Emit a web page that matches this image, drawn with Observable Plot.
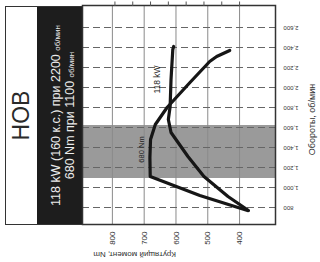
<!DOCTYPE html>
<html>
<head>
<meta charset="utf-8">
<script src="https://cdn.jsdelivr.net/npm/d3@7"></script>
<script src="https://cdn.jsdelivr.net/npm/@observablehq/plot@0.6"></script>
<style>
  html, body { margin: 0; padding: 0; background: #fff; width: 320px; height: 262px; overflow: hidden; }
  #rot { position: absolute; left: 29px; top: -29px; width: 262px; height: 320px;
         transform: rotate(-90deg); font-family: "Liberation Sans", Arial, sans-serif; }
  #head { margin: 5px 0 0 37px; width: 219px; box-sizing: border-box;
          border: 1.5px solid #333; border-bottom: none; }
  #title { height: 30.5px; display: flex; align-items: center; justify-content: center;
           font-size: 23px; color: #2a2a2a; }
  #band { height: 45px; background: #1d1d1d; color: #ececec; font-size: 12.5px;
          line-height: 13px; text-align: center; padding-top: 13px; box-sizing: border-box; }
  #band small { font-size: 8px; }
</style>
</head>
<body>
<div id="rot">
  <div id="head">
    <div id="title">НОВ</div>
    <div id="band">
      <div>118 kW (160 к.с.) при 2200 <small>об/мин</small></div>
      <div>680 Nm при 1100 <small>об/мин</small></div>
    </div>
  </div>
  <div id="chart"></div>
</div>
<script>
// tick values
const rpmTicks = [800, 1000, 1200, 1400, 1600, 1800, 2000, 2200, 2400, 2600];
const torqueTicks = [400, 500, 600, 700, 800];
const powerTicks = [40, 60, 80, 100, 120, 140, 160, 180];

// torque curve (Nm)
const torqueRpm = [770, 920, 1110, 1300, 1480, 1630, 1800, 2050, 2260, 2310, 2370];
const torqueNm  = [375, 525, 681, 682, 680, 665, 628, 556, 494, 472, 431];

// power curve (kW)
const powerRpm = [770, 910, 1110, 1310, 1550, 1680, 1810, 2080, 2380, 2410];
const powerKw  = [30, 53, 80, 98, 117, 120, 118, 117, 115, 114];

// economy band (rpm)
const bandRpm = [1100, 1630];

// annotations
const notes = [
  {text: "118 kW", rpm: 2080, nm: 658, size: 8.5},
  {text: "680 Nm", rpm: 1380, nm: 709, size: 7.5}
];

const rpmDomain = [630, 2820];
const nmDomain = [287, 894];
// power axis placed on the torque scale: Nm-equivalent = KW0 + KWK * kW
const KW0 = 288, KWK = 2.8;
const kwToScale = kw => KW0 + KWK * kw;

const torque = torqueRpm.map((r, i) => ({rpm: r, v: torqueNm[i]}));
const power = powerRpm.map((r, i) => ({rpm: r, v: kwToScale(powerKw[i])}));

const chart = Plot.plot({
  width: 262,
  height: 238,
  marginLeft: 37,
  marginRight: 6,
  marginTop: 0,
  marginBottom: 45,
  style: {overflow: "visible", background: "transparent", fontFamily: "Liberation Sans, Arial, sans-serif", color: "#333"},
  x: {domain: rpmDomain},
  y: {domain: nmDomain},
  marks: [
    Plot.rect([bandRpm], {x1: d => d[0], x2: d => d[1], y1: () => nmDomain[0], y2: () => nmDomain[1], fill: "#9a9a9a"}),
    Plot.ruleY(torqueTicks, {stroke: "#8a8a8a", strokeWidth: 1}),
    Plot.ruleX(rpmTicks, {stroke: "#666", strokeWidth: 1, strokeDasharray: "7,4"}),
    Plot.frame({stroke: "#333", strokeWidth: 1.5}),
    Plot.line(torque, {x: "rpm", y: "v", stroke: "#161616", strokeWidth: 3.2, strokeLinejoin: "round", strokeLinecap: "round"}),
    Plot.line(power, {x: "rpm", y: "v", stroke: "#161616", strokeWidth: 3.2, strokeLinejoin: "round", strokeLinecap: "round"}),
    Plot.text(notes, {x: "rpm", y: "nm", text: "text", fontSize: d => d.size, fill: "#222"}),
    Plot.axisY(torqueTicks, {anchor: "left", tickSize: 0, tickPadding: 7, fontSize: 8, label: null}),
    Plot.axisX(rpmTicks, {anchor: "bottom", tickSize: 0, tickPadding: 8, tickRotate: -90, fontSize: 6, label: null}),
    Plot.ruleY(powerTicks.map(kwToScale), {x1: () => rpmDomain[1], x2: () => rpmDomain[1] + 45, stroke: "#555", strokeWidth: 1}),
    Plot.text(["Крутящий момент, Nm"], {frameAnchor: "left", y: () => 600, dx: -30, rotate: -90, fontSize: 8, fill: "#333"}),
    Plot.text(["Обороты, об/мин"], {frameAnchor: "bottom", x: () => 1680, dy: 39, fontSize: 9, fill: "#333"})
  ]
});
document.getElementById("chart").appendChild(chart);
</script>
</body>
</html>
